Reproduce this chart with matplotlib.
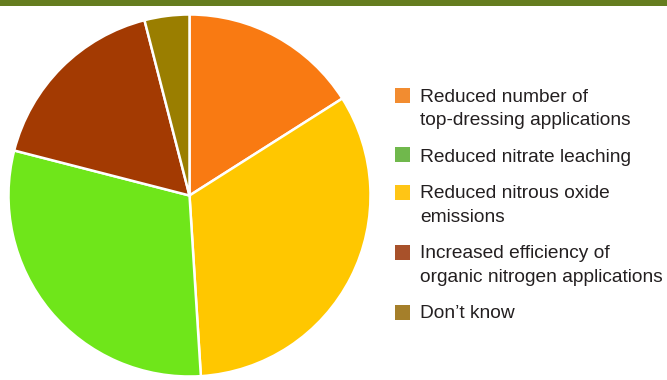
import matplotlib.pyplot as plt
from matplotlib.patches import Rectangle

plt.rcParams['font.family'] = ['Liberation Sans', 'DejaVu Sans']

# Survey answers (percent of respondents)
labels = [
    "Reduced number of\ntop-dressing applications",
    "Reduced nitrate leaching",
    "Reduced nitrous oxide\nemissions",
    "Increased efficiency of\norganic nitrogen applications",
    "Don\u2019t know",
]
values = [16, 30, 33, 17, 4]
pie_colors = ["#F97A12", "#6FE61A", "#FFC700", "#A33A02", "#9A7E00"]
key_colors = ["#F28C30", "#70B84C", "#FFC515", "#A8512A", "#A57F2A"]

# slices go clockwise in this order, starting at 12 o'clock
pie_order = [0, 2, 1, 3, 4]

W, H = 667, 380
fig = plt.figure(figsize=(W / 100, H / 100), dpi=100)

# thin band across the top
fig.patches.append(Rectangle((0, 1 - 5.5 / H), 1, 5.5 / H, transform=fig.transFigure,
                             facecolor="#657D1F", edgecolor="none"))

ax = fig.add_axes([8.5 / W, 3.5 / H, 362 / W, 362 / H])
ax.pie([values[i] for i in pie_order],
       colors=[pie_colors[i] for i in pie_order],
       startangle=90, counterclock=False, radius=1,
       wedgeprops=dict(edgecolor="white", linewidth=1.8))
ax.set_xlim(-1, 1)
ax.set_ylim(-1, 1)
ax.set_aspect("equal")
ax.axis("off")

# hand-placed key on the right, one text per line
line_h = 23
gap = 14
y = 95
for lab, col in zip(labels, key_colors):
    fig.patches.append(Rectangle((395 / W, 1 - (y + 7.5) / H), 15 / W, 15 / H,
                                 transform=fig.transFigure, facecolor=col,
                                 edgecolor="none"))
    for part in lab.split("\n"):
        fig.text(420 / W, 1 - y / H, part, ha="left", va="center_baseline",
                 fontsize=13.8, color="#231F20")
        y += line_h
    y += gap

fig.savefig("out.png", dpi=100)
